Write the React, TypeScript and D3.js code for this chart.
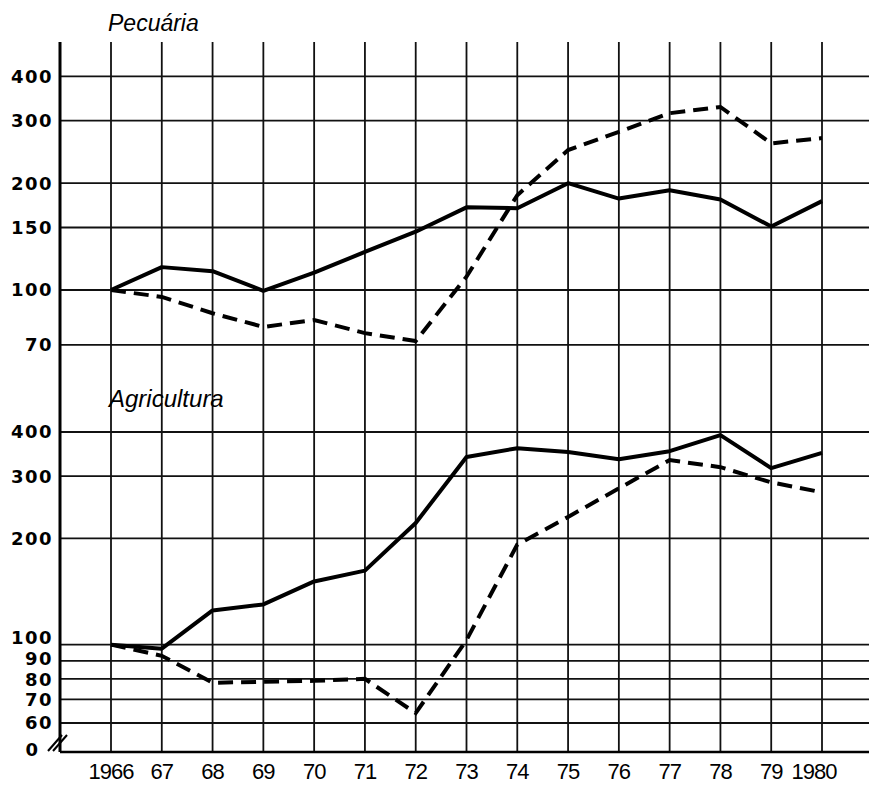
import React from "react";
import * as d3 from "d3";

const years = [1966, 1967, 1968, 1969, 1970, 1971, 1972, 1973, 1974, 1975, 1976, 1977, 1978, 1979, 1980];
const yearLabels = ["1966", "67", "68", "69", "70", "71", "72", "73", "74", "75", "76", "77", "78", "79", "1980"];

const pecuariaSolid = [100, 116, 113, 99.5, 112, 128, 146, 171, 170, 200, 181, 191, 180, 151, 178];
const pecuariaDashed = [100, 95.6, 86, 78.7, 82.3, 75.6, 71.8, 109, 185, 248, 279, 315, 328, 259, 268];

const agriSolid = [100, 97.4, 125, 130, 151, 162, 221, 340, 360, 351, 335, 353, 392, 316, 349];
const agriDashed = [100, 93, 78, 78.5, 79, 80, 64, 103, 192, 230, 277, 333, 318, 288, 270];

const pecuariaTicks = [400, 300, 200, 150, 100, 70];
const agriTicks = [400, 300, 200, 100, 90, 80, 70, 60];

const W = 869;
const H = 788;
const axisX = 60;
const rightX = 869;
const topY = 42;
const baseY = 752;

export default function App() {
  const x = d3.scaleLinear().domain([1966, 1980]).range([111, 822]);
  const yTop = d3.scaleLog().domain([100, 500]).range([290, 42]);
  const yBot = d3.scaleLog().domain([60, 400]).range([723, 432]);

  const lineTop = d3
    .line<number>()
    .x((_, i) => x(years[i]))
    .y((v) => yTop(v));
  const lineBot = d3
    .line<number>()
    .x((_, i) => x(years[i]))
    .y((v) => yBot(v));

  const tickFont = "'DejaVu Sans', sans-serif";
  const gridStroke = "#111";
  const labelShift = (t: number) => (t === 100 ? -7 : t === 90 ? -2 : t === 80 ? 1 : 0);

  return (
    <svg
      width={W}
      height={H}
      style={{ position: "absolute", left: 0, top: 0, background: "#fff" }}
    >
      <rect x={0} y={0} width={W} height={H} fill="#fff" />
      {years.map((yr) => (
        <line
          key={"v" + yr}
          x1={x(yr)}
          x2={x(yr)}
          y1={topY}
          y2={baseY}
          stroke={gridStroke}
          strokeWidth={1.8}
        />
      ))}
      {pecuariaTicks.map((t) => (
        <line
          key={"ht" + t}
          x1={axisX}
          x2={rightX}
          y1={yTop(t)}
          y2={yTop(t)}
          stroke={gridStroke}
          strokeWidth={1.8}
        />
      ))}
      {agriTicks.map((t) => (
        <line
          key={"hb" + t}
          x1={axisX}
          x2={rightX}
          y1={yBot(t)}
          y2={yBot(t)}
          stroke={gridStroke}
          strokeWidth={1.8}
        />
      ))}
      <line x1={axisX} x2={rightX} y1={baseY} y2={baseY} stroke="#000" strokeWidth={2.5} />
      <line x1={axisX} x2={axisX} y1={topY} y2={baseY} stroke="#000" strokeWidth={3} />

      <line x1={48} y1={751} x2={62} y2={735} stroke="#000" strokeWidth={2} />
      <line x1={53} y1={751} x2={67} y2={735} stroke="#000" strokeWidth={2} />

      {pecuariaTicks.map((t) => (
        <text
          key={"lt" + t}
          x={53}
          y={yTop(t)}
          dy="0.36em"
          textAnchor="end"
          fontFamily={tickFont}
          fontWeight="bold"
          fontSize={18}
          letterSpacing={1.5}
          fill="#000"
        >
          {t}
        </text>
      ))}
      {agriTicks.map((t) => (
        <text
          key={"lb" + t}
          x={53}
          y={yBot(t) + labelShift(t)}
          dy="0.36em"
          textAnchor="end"
          fontFamily={tickFont}
          fontWeight="bold"
          fontSize={18}
          letterSpacing={1.5}
          fill="#000"
        >
          {t}
        </text>
      ))}
      <text
        x={38}
        y={baseY - 2}
        dy="0.36em"
        textAnchor="end"
        fontFamily={tickFont}
        fontWeight="bold"
        fontSize={18}
        fill="#000"
      >
        0
      </text>

      {years.map((yr, i) => (
        <text
          key={"xl" + yr}
          x={x(yr) - (i === 14 ? 8 : 0)}
          y={779}
          textAnchor="middle"
          fontFamily="'Liberation Sans', sans-serif"
          fontSize={22}
          letterSpacing={-1}
          fill="#000"
        >
          {yearLabels[i]}
        </text>
      ))}

      <text
        x={108}
        y={31}
        fontFamily="'Liberation Sans', sans-serif"
        fontStyle="italic"
        fontSize={23}
        fill="#000"
      >
        Pecuária
      </text>
      <text
        x={109}
        y={407}
        fontFamily="'Liberation Sans', sans-serif"
        fontStyle="italic"
        fontSize={24}
        fill="#000"
      >
        Agricultura
      </text>

      <path d={lineTop(pecuariaSolid) || ""} fill="none" stroke="#000" strokeWidth={4} strokeLinejoin="round" />
      <path
        d={lineTop(pecuariaDashed) || ""}
        fill="none"
        stroke="#000"
        strokeWidth={4}
        strokeDasharray="15 8"
      />
      <path d={lineBot(agriSolid) || ""} fill="none" stroke="#000" strokeWidth={4} strokeLinejoin="round" />
      <path
        d={lineBot(agriDashed) || ""}
        fill="none"
        stroke="#000"
        strokeWidth={4}
        strokeDasharray="15 8"
      />
    </svg>
  );
}
